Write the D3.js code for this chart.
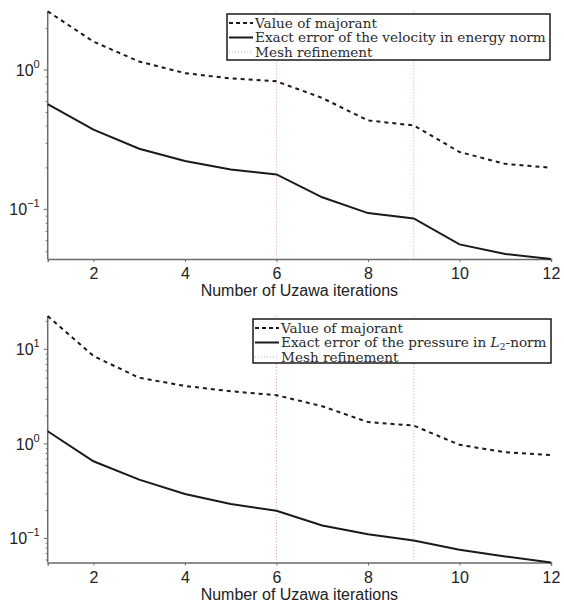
<!DOCTYPE html>
<html><head><meta charset="utf-8">
<script src="https://cdn.jsdelivr.net/npm/d3@7"></script>
<style>body{margin:0;background:#fff}svg{display:block}</style>
</head><body>
<svg id="c" width="564" height="608"></svg>
<script>
const iterations = [1,2,3,4,5,6,7,8,9,10,11,12];
const majorantVel = [2.64,1.60,1.15,0.95,0.87,0.83,0.63,0.435,0.40,0.258,0.212,0.199];
const errorVel = [0.569,0.373,0.272,0.222,0.193,0.178,0.122,0.094,0.086,0.056,0.0478,0.0440];
const majorantPres = [22.5,8.5,5.0,4.1,3.6,3.27,2.5,1.70,1.56,0.977,0.816,0.764];
const errorPres = [1.36,0.655,0.419,0.295,0.231,0.196,0.137,0.111,0.095,0.076,0.0645,0.0557];
const refinements = [6,9];
const xTicks = [2,4,6,8,10,12];
const legendTop = ["Value of majorant","Exact error of the velocity in energy norm","Mesh refinement"];
const legendBottom = ["Value of majorant","Exact error of the pressure in L2-norm","Mesh refinement"];
const xLabel = "Number of Uzawa iterations";

const svg = d3.select("#c");
const sans = "Liberation Sans, Arial, sans-serif";

function panel(cfg){
  const g = svg.append("g");
  const x = d3.scaleLinear().domain([1,12]).range([cfg.left, cfg.right]);
  const y = d3.scaleLog().domain(cfg.ydom).range([cfg.bottom, cfg.top]);
  const axisCol = "#6b6b6b";
  refinements.forEach(r=>{
    g.append("line").attr("x1",x(r)).attr("x2",x(r)).attr("y1",y(cfg.ydom[1])).attr("y2",cfg.bottom)
      .attr("stroke","#f2a3a8").attr("stroke-width",1).attr("stroke-dasharray","1,2");
  });
  const xa = d3.axisBottom(x).tickValues(xTicks).tickSize(3).tickFormat(d3.format("d"));
  const gx = g.append("g").attr("transform",`translate(0,${cfg.bottom})`).call(xa);
  gx.select(".domain").attr("stroke",axisCol).attr("stroke-width",1.5);
  gx.selectAll(".tick line").attr("stroke",axisCol);
  gx.selectAll(".tick text").attr("font-family",sans).attr("font-size",16).attr("fill","#222").attr("dy","0.9em");
  const lo = Math.floor(Math.log10(cfg.ydom[0])), hi = Math.ceil(Math.log10(cfg.ydom[1]));
  const minor = [], major = [];
  for(let e=lo;e<=hi;e++){
    for(let m=1;m<10;m++){
      const v = m*Math.pow(10,e);
      if(v>=cfg.ydom[0] && v<=cfg.ydom[1]){ if(m===1) major.push(e); else minor.push(v); }
    }
  }
  const ya = d3.axisLeft(y).tickValues(minor).tickSize(2).tickFormat("");
  const gy = g.append("g").attr("transform",`translate(${cfg.left},0)`).call(ya);
  gy.select(".domain").attr("stroke",axisCol).attr("stroke-width",1.5).attr("d",`M-0,${cfg.bottom}V${y(cfg.ydom[1])}`);
  gy.selectAll(".tick line").attr("stroke",axisCol);
  major.forEach(e=>{
    const yy = y(Math.pow(10,e));
    g.append("line").attr("x1",cfg.left-4).attr("x2",cfg.left).attr("y1",yy).attr("y2",yy).attr("stroke",axisCol);
    const t = g.append("text").attr("x",cfg.left-8).attr("y",yy+6).attr("text-anchor","end")
      .attr("font-family",sans).attr("font-size",16).attr("fill","#222");
    t.append("tspan").text("10");
    t.append("tspan").attr("font-size",11).attr("dy",-8).text(String(e).replace("-","\u2212"));
  });
  g.append("text").attr("x",(cfg.left+cfg.right)/2).attr("y",cfg.bottom+37).attr("text-anchor","middle")
    .attr("font-family",sans).attr("font-size",16).attr("fill","#222").text(xLabel);
  const line = d3.line().x((d,i)=>x(iterations[i])).y(d=>y(d));
  g.append("path").datum(cfg.maj).attr("d",line).attr("fill","none").attr("stroke","#1a1a1a").attr("stroke-width",2).attr("stroke-dasharray","4,4");
  g.append("path").datum(cfg.err).attr("d",line).attr("fill","none").attr("stroke","#1a1a1a").attr("stroke-width",2);
  const L = cfg.leg;
  g.append("rect").attr("x",L.x).attr("y",L.y).attr("width",L.w).attr("height",L.h).attr("fill","#fff").attr("stroke","#1a1a1a").attr("stroke-width",1.5);
  const styles = [{c:"#1a1a1a",w:2,d:"4,3"},{c:"#1a1a1a",w:2,d:null},{c:"#f2a3a8",w:1,d:"1,2"}];
  cfg.legText.forEach((txt,i)=>{
    const yy = L.y + 9 + i*14.5;
    const s = styles[i];
    const ln = g.append("line").attr("x1",L.x+2).attr("x2",L.x+26).attr("y1",yy).attr("y2",yy).attr("stroke",s.c).attr("stroke-width",s.w);
    if(s.d) ln.attr("stroke-dasharray",s.d);
    const t = g.append("text").attr("x",L.x+28).attr("y",yy+4.5).attr("font-family","DejaVu Serif, serif").attr("font-size",13.6).attr("fill","#2a2a2a");
    if(txt.includes("L2")){
      const parts = txt.split("L2");
      t.append("tspan").text(parts[0]);
      t.append("tspan").attr("font-style","italic").text("L");
      t.append("tspan").attr("font-size",9.5).attr("dy",3).text("2");
      t.append("tspan").attr("dy",-3).text(parts[1]);
    } else t.text(txt);
  });
}

panel({left:47.7,right:551,top:11.3,bottom:259,ydom:[0.0440,2.64],maj:majorantVel,err:errorVel,
  leg:{x:227,y:14,w:323,h:46},legText:legendTop});
panel({left:47.7,right:551,top:316,bottom:562.5,ydom:[0.0557,22.5],maj:majorantPres,err:errorPres,
  leg:{x:253,y:319,w:298,h:44},legText:legendBottom});
</script>
</body></html>
